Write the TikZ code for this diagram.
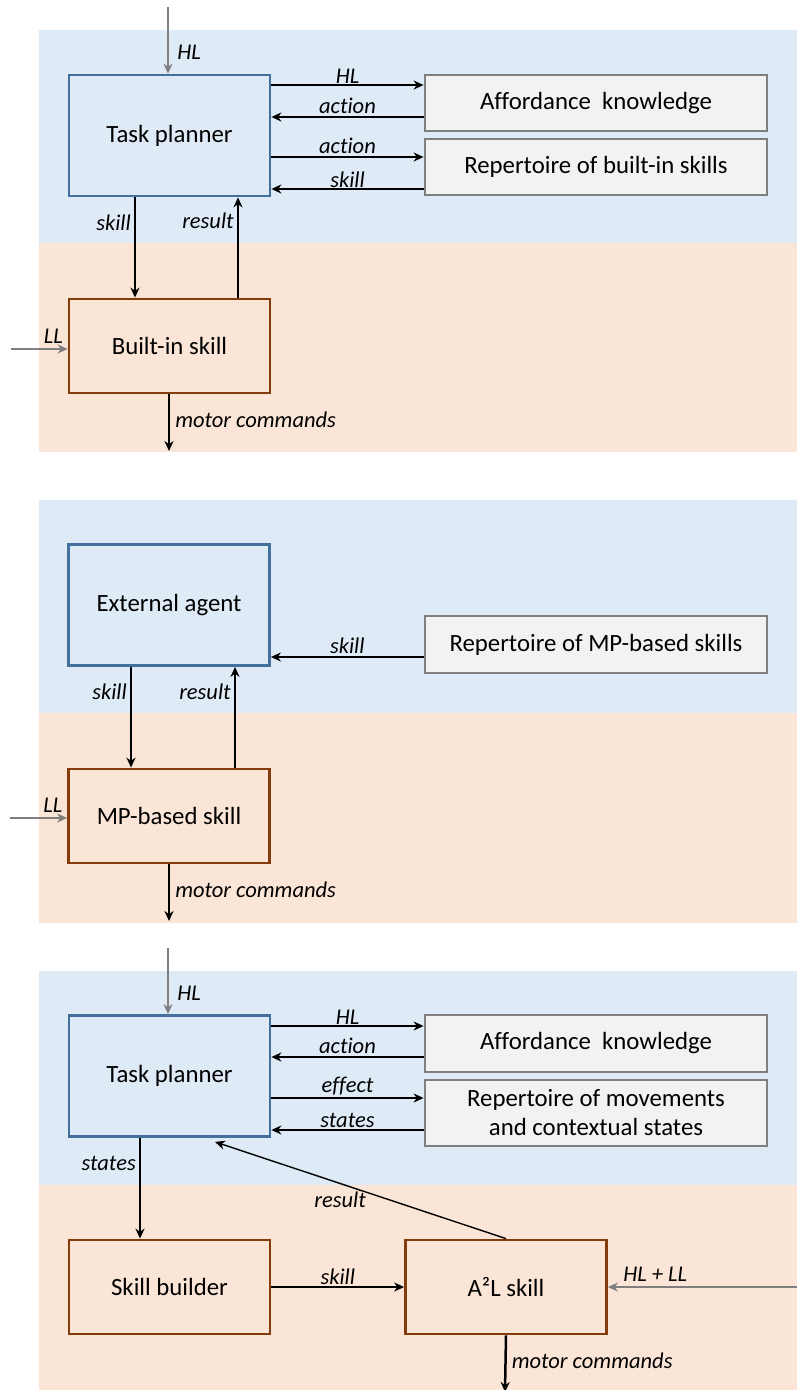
\documentclass[tikz,border=0pt]{standalone}
\usepackage{fontspec}
\setmainfont{Carlito}[Ligatures=NoCommon]
\usetikzlibrary{arrows.meta,calc}
\definecolor{bgblue}{HTML}{DEEBF7}
\definecolor{bgorange}{HTML}{FBE5D6}
\definecolor{bordblue}{HTML}{41719C}
\definecolor{bordbrown}{HTML}{843C0C}
\definecolor{boxgray}{HTML}{F2F2F2}
\definecolor{bordgray}{HTML}{7F7F7F}
\definecolor{arrgray}{HTML}{7F7F7F}
\tikzset{
  base/.style={rectangle, draw, line width=2.8pt, font=\fontsize{24.8}{29}\selectfont, align=center, inner sep=2pt},
  bluebox/.style={base, draw=bordblue, fill=bgblue, minimum width=201, minimum height=121},
  brownbox/.style={base, draw=bordbrown, fill=bgorange, minimum width=201, minimum height=94},
  graybox/.style={base, draw=bordgray, fill=boxgray, minimum width=342},
  arr/.style={line width=2.5pt, -{Stealth[length=10pt,width=9pt]}},
  thinarr/.style={line width=1.4pt, -{Stealth[length=10pt,width=9pt]}},
  grayarr/.style={line width=2.5pt, draw=arrgray, -{Stealth[length=10pt,width=9pt]}},
  lab/.style={font=\fontsize{22.5}{26}\selectfont\itshape, inner sep=2pt}
}
\begin{document}
\begin{tikzpicture}[x=1pt,y=-1pt]
\useasboundingbox (0,0) rectangle (797,1390);
% backgrounds
\fill[bgblue] (39,30) rectangle (797,243);
\fill[bgorange] (39,243) rectangle (797,452);
\fill[bgblue] (39,500) rectangle (797,713);
\fill[bgorange] (39,713) rectangle (797,923);
\fill[bgblue] (39,971) rectangle (797,1185);
\fill[bgorange] (39,1185) rectangle (797,1390);

% ---------- Panel 1 ----------
\node[bluebox] (tp1) at (169.5,135.5) {Task planner};
\node[graybox, minimum height=56] (ak1) at (596,103) {Affordance\ \ knowledge};
\node[graybox, minimum height=56] (rb1) at (596,167) {Repertoire of built-in skills};
\node[brownbox] (bs1) at (169.5,346) {Built-in skill};
\coordinate (hlin1) at (168,7);
\coordinate (llin1) at (11,349);
\coordinate (mc1) at (169,451);

\draw[grayarr] (hlin1) -- (hlin1 |- tp1.north) node[lab, pos=0.68, right=6pt] {HL};
\draw[arr] (tp1.east |- 0,85) -- (ak1.west |- 0,85) node[lab, midway, above=-2pt] {HL};
\draw[arr] (ak1.west |- 0,117) -- (tp1.east |- 0,117) node[lab, midway, above=0pt] {action};
\draw[arr] (tp1.east |- 0,157) -- (rb1.west |- 0,157) node[lab, midway, above=0pt] {action};
\draw[arr] (rb1.west |- 0,189) -- (tp1.east |- 0,189) node[lab, midway, above=-2pt] {skill};
\draw[arr] (tp1.south -| 135,0) -- (bs1.north -| 135,0) node[lab, pos=0.25, left=1pt] {skill};
\draw[arr] (bs1.north -| 238,0) -- (tp1.south -| 238,0) node[lab, pos=0.77, left=1pt] {result};
\draw[grayarr] (llin1) -- (bs1.west |- llin1) node[lab, pos=0.75, above=2pt] {LL};
\draw[arr] (bs1.south -| mc1) -- (mc1) node[lab, pos=0.45, right=3pt] {motor commands};

% ---------- Panel 2 ----------
\node[bluebox] (ea2) at (169,605) {External agent};
\node[graybox, minimum height=57] (rm2) at (596,644.5) {Repertoire of MP-based skills};
\node[brownbox] (ms2) at (169,816) {MP-based skill};
\coordinate (llin2) at (10,818);
\coordinate (mc2) at (169,921);

\draw[arr] (rm2.west |- 0,657) -- (ea2.east |- 0,657) node[lab, midway, above=0pt] {skill};
\draw[arr] (ea2.south -| 131,0) -- (ms2.north -| 131,0) node[lab, pos=0.25, left=1pt] {skill};
\draw[arr] (ms2.north -| 235,0) -- (ea2.south -| 235,0) node[lab, pos=0.75, left=1pt] {result};
\draw[grayarr] (llin2) -- (ms2.west |- llin2) node[lab, pos=0.75, above=2pt] {LL};
\draw[arr] (ms2.south -| mc2) -- (mc2) node[lab, pos=0.45, right=3pt] {motor commands};

% ---------- Panel 3 ----------
\node[bluebox] (tp3) at (169.5,1076) {Task planner};
\node[graybox, minimum height=57] (ak3) at (596,1043.5) {Affordance\ \ knowledge};
\node[graybox, minimum height=66, font=\fontsize{24.8}{29}\selectfont] (rm3) at (596,1113) {Repertoire of movements\\and contextual states};
\node[brownbox] (sb3) at (169.5,1287) {Skill builder};
\node[brownbox] (a2l) at (506,1287) {A²L skill};
\coordinate (hlin3) at (168,948);
\coordinate (hlll3) at (797,1287);
\coordinate (mc3) at (505,1392);

\draw[grayarr] (hlin3) -- (hlin3 |- tp3.north) node[lab, pos=0.68, right=6pt] {HL};
\draw[arr] (tp3.east |- 0,1026) -- (ak3.west |- 0,1026) node[lab, midway, above=-2pt] {HL};
\draw[arr] (ak3.west |- 0,1057) -- (tp3.east |- 0,1057) node[lab, midway, above=0pt] {action};
\draw[arr] (tp3.east |- 0,1098) -- (rm3.west |- 0,1098) node[lab, midway, above=0pt] {effect};
\draw[arr] (rm3.west |- 0,1130) -- (tp3.east |- 0,1130) node[lab, midway, above=-1pt] {states};
\draw[arr] (tp3.south -| 140,0) -- (sb3.north -| 140,0) node[lab, pos=0.25, left=1pt] {states};
\draw[thinarr] (a2l.north) -- ($(tp3.south -| 215,0)+(0,4)$) node[lab, pos=0.57, below=6pt] {result};
\draw[arr] (sb3.east) -- (a2l.west) node[lab, midway, above=-1pt] {skill};
\draw[grayarr] (hlll3) -- (a2l.east) node[lab, pos=0.75, above=2pt] {HL + LL};
\draw[arr] (a2l.south) -- (mc3) node[lab, pos=0.45, right=3pt] {motor commands};
\end{tikzpicture}
\end{document}
